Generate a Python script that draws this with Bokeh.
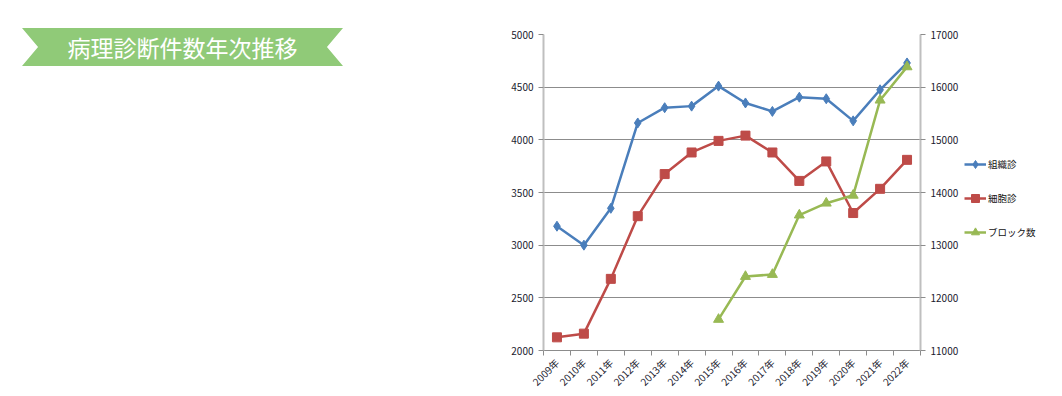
import math
from bokeh.plotting import figure
from bokeh.layouts import row
from bokeh.models import (Range1d, LinearAxis, FixedTicker, Legend, LegendItem,
                          ColumnDataSource, Div)
from bokeh.embed import file_html
from bokeh.resources import INLINE

# ---- data ----
years = ["2009年", "2010年", "2011年", "2012年", "2013年", "2014年", "2015年",
         "2016年", "2017年", "2018年", "2019年", "2020年", "2021年", "2022年"]
soshiki = [3180, 3000, 3350, 4160, 4305, 4320, 4510, 4350, 4270, 4405, 4390, 4180, 4475, 4730]
saibou = [2125, 2160, 2680, 3275, 3675, 3880, 3990, 4040, 3880, 3610, 3795, 3305, 3535, 3810]
block = [None, None, None, None, None, None, 11590, 12405, 12443, 13571, 13797, 13947, 15753, 16385]
series_names = ["組織診", "細胞診", "ブロック数"]
left_ticks = [2000, 2500, 3000, 3500, 4000, 4500, 5000]
right_ticks = [11000, 12000, 13000, 14000, 15000, 16000, 17000]
title_text = "病理診断件数年次推移"

FONT = "Noto Sans CJK JP"
BLUE = "#4A7EBB"
RED = "#BE4B48"
GREEN = "#98B954"
STYLES = [(BLUE, "diamond", 10), (RED, "square", 9), (GREEN, "triangle", 10)]

H = 396
DW = 490          # banner width
PW = 472          # chart width
LW = 1060 - DW - PW  # legend panel width

banner = Div(width=DW, height=H, margin=0, text=(
    '<div style="margin-left:22px;margin-top:28px;width:321px;height:38px;'
    'background:#90CA78;'
    'clip-path:polygon(0 0,100% 0,95% 50%,100% 100%,0 100%,5% 50%);'
    'color:#ffffff;font-family:\'Noto Sans CJK JP\';font-size:23px;'
    'display:flex;align-items:center;justify-content:center;">'
    + title_text + '</div>'))

n = len(years)
xs = list(range(n))
p = figure(width=PW, height=H, x_range=Range1d(-0.5, n - 0.5),
           y_range=Range1d(left_ticks[0], left_ticks[-1]),
           output_backend="svg", toolbar_location=None,
           min_border_left=543 - DW, min_border_right=42,
           min_border_top=34, min_border_bottom=43, margin=0)
p.extra_y_ranges = {"block": Range1d(right_ticks[0], right_ticks[-1])}
p.outline_line_color = None
p.xgrid.visible = False
p.ygrid.grid_line_color = "#8C8C8C"
p.ygrid.grid_line_width = 1

p.yaxis.ticker = FixedTicker(ticks=left_ticks)
ra = LinearAxis(y_range_name="block", ticker=FixedTicker(ticks=right_ticks))
p.add_layout(ra, "right")

p.xaxis.ticker = FixedTicker(ticks=xs, minor_ticks=[i - 0.5 for i in range(n + 1)])
p.xaxis.major_label_overrides = {i: y for i, y in enumerate(years)}
p.xaxis.major_label_orientation = math.pi / 4
p.xaxis.major_tick_line_color = None
p.xaxis.minor_tick_in = 0
p.xaxis.minor_tick_out = 5
p.xaxis.minor_tick_line_color = "#8C8C8C"

for ax in p.axis:
    ax.axis_line_color = "#BFBFBF"
    ax.axis_line_width = 2
    ax.major_label_text_font = FONT
    ax.major_label_text_font_size = "10px"
    ax.major_label_text_color = "#1a1a2e"
    ax.major_label_standoff = 5
for ax in [p.yaxis[0], ra]:
    ax.major_tick_in = 0
    ax.major_tick_out = 5
    ax.major_tick_line_color = "#8C8C8C"
    ax.minor_tick_line_color = None
p.xaxis.axis_line_color = "#8C8C8C"
p.xaxis.axis_line_width = 1
p.xaxis.major_label_standoff = 4
p.xaxis.major_label_text_font_size = "10px"

src1 = ColumnDataSource(dict(x=xs, y=soshiki))
src2 = ColumnDataSource(dict(x=xs, y=saibou))
bx = [x for x, v in zip(xs, block) if v is not None]
bv = [v for v in block if v is not None]
src3 = ColumnDataSource(dict(x=bx, y=bv))
sources = [src1, src2, src3]
ranges = ["default", "default", "block"]

for src, (col, mk, sz), rng in zip(sources, STYLES, ranges):
    p.line("x", "y", source=src, line_color=col, line_width=2.5, y_range_name=rng)
    p.scatter("x", "y", source=src, marker=mk, size=sz, fill_color=col, line_color=col,
              y_range_name=rng)

# ---- legend panel (separate small figure; its ranges keep the series out of view) ----
lg = figure(width=LW, height=H, x_range=Range1d(1000, 1001), y_range=Range1d(-2, -1),
            output_backend="svg", toolbar_location=None, min_border=0, margin=0)
lg.axis.visible = False
lg.grid.visible = False
lg.outline_line_color = None
items = []
for name, src, (col, mk, sz) in zip(series_names, sources, STYLES):
    r1 = lg.line("x", "y", source=src, line_color=col, line_width=2.5)
    r2 = lg.scatter("x", "y", source=src, marker=mk, size=sz, fill_color=col, line_color=col)
    items.append(LegendItem(label=name, renderers=[r1, r2]))
legend = Legend(items=items, location=(2, 108), orientation="vertical")
legend.border_line_color = None
legend.background_fill_alpha = 0
legend.label_text_font = FONT
legend.label_text_font_size = "9.5px"
legend.label_text_color = "#111111"
legend.glyph_width = 22
legend.glyph_height = 20
legend.spacing = 14
legend.label_standoff = 2
legend.padding = 4
legend.margin = 0
lg.add_layout(legend, "center")

layout = row(banner, p, lg, spacing=0)
open("out.html", "w").write(file_html(layout, INLINE))
